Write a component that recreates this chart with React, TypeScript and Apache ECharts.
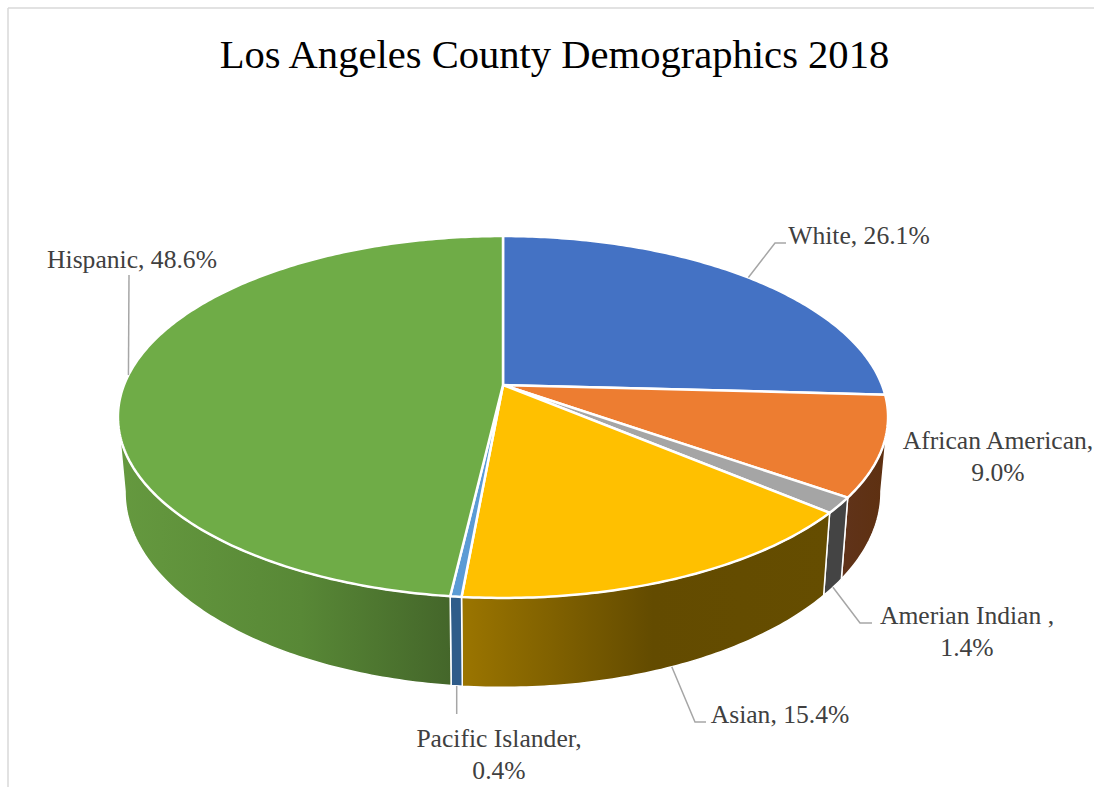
import React, { useEffect, useRef } from "react";
import * as echarts from "echarts";

const titleText = "Los Angeles County Demographics 2018";
const categories = ["White", "African American", "Amerian Indian ", "Asian", "Pacific Islander", "Hispanic"];
const shares = [26.1, 9.0, 1.4, 15.4, 0.4, 48.6];

const topColors = ["#4472C4", "#ED7D31", "#A5A5A5", "#FFC000", "#5B9BD5", "#6FAC47"];
const wallStops: [number, string][][] = [
  [[0, "#2F5597"], [1, "#2F5597"]],
  [[0, "#60331A"], [1, "#5E3010"]],
  [[0, "#444444"], [1, "#444444"]],
  [[0, "#9B7500"], [0.52, "#634B00"], [1, "#654D00"]],
  [[0, "#2F5C8A"], [1, "#2F5C8A"]],
  [[0, "#65993F"], [0.55, "#588836"], [1, "#44662A"]],
];

// Label centre, wrapping, and the leader's elbow and end, per slice.
const labelLayout = [
  { x: 859, y: 235, wrap: false, leader: [[775, 243], [786, 243]], from: "top" },
  { x: 998, y: 456, wrap: true, leader: null, from: "top" },
  { x: 967, y: 631, wrap: true, leader: [[860, 623], [872, 623]], from: "bottom" },
  { x: 780, y: 714, wrap: false, leader: [[695, 722], [706, 722]], from: "bottom" },
  { x: 499, y: 754, wrap: true, leader: "down", from: "bottom" },
  { x: 132, y: 259, wrap: false, leader: [[129, 275]], from: "top" },
];

// Perspective of the tilted disc: v runs toward the viewer.
const CX = 503;
const TILT = 0.1768;
const TOP_FACE = { cy: 385, a: 379, b: 175.3 };
const BOTTOM_FACE = { cy: 457.5, a: 372, b: 189.2 };
const WALL_FROM = 100;
const WALL_TO = 260;
const FONT = '"Liberation Serif", serif';

const project = (face: typeof TOP_FACE, deg: number): number[] => {
  const r = (deg * Math.PI) / 180;
  const u = Math.sin(r);
  const v = -Math.cos(r);
  const d = 1 - TILT * v;
  return [CX + (face.a * u) / d, face.cy + (face.b * v) / d];
};

const arc = (face: typeof TOP_FACE, from: number, to: number): number[][] => {
  const n = Math.max(2, Math.ceil((to - from) / 0.75));
  const pts: number[][] = [];
  for (let i = 0; i <= n; i++) pts.push(project(face, from + ((to - from) * i) / n));
  return pts;
};

const total = shares.reduce((a, b) => a + b, 0);
const startAngles = shares.map((_, i) => (shares.slice(0, i).reduce((a, b) => a + b, 0) / total) * 360);

const labelText = (i: number) => {
  const pct = `${shares[i].toFixed(1)}%`;
  return labelLayout[i].wrap ? `${categories[i]},\n${pct}` : `${categories[i]}, ${pct}`;
};

const renderSlice = (params: any, api: any) => {
  const i = params.dataIndex;
  const from = startAngles[i];
  const to = from + (api.value(0) / total) * 360;
  const children: any[] = [];

  const wFrom = Math.max(from, WALL_FROM);
  const wTo = Math.min(to, WALL_TO);
  if (wTo > wFrom) {
    const points = [...arc(TOP_FACE, wFrom, wTo), ...arc(BOTTOM_FACE, wFrom, wTo).reverse()];
    children.push({
      type: "polygon",
      z2: 1,
      shape: { points },
      style: {
        fill: new echarts.graphic.LinearGradient(
          0, 0, 1, 0,
          wallStops[i].map(([offset, color]) => ({ offset, color }))
        ),
        stroke: "#FFFFFF",
        lineWidth: 1.5,
        lineJoin: "round",
      },
    });
  }

  children.push({
    type: "polygon",
    z2: 2,
    shape: { points: [[CX, TOP_FACE.cy], ...arc(TOP_FACE, from, to)] },
    style: { fill: topColors[i], stroke: "#FFFFFF", lineWidth: 2.5, lineJoin: "round" },
  });

  const layout = labelLayout[i];
  if (layout.leader) {
    const anchor = project(layout.from === "top" ? TOP_FACE : BOTTOM_FACE, (from + to) / 2);
    const rest = layout.leader === "down" ? [[anchor[0], 714]] : (layout.leader as number[][]);
    children.push({
      type: "polyline",
      z2: 3,
      shape: { points: [anchor, ...rest] },
      style: { fill: "none", stroke: "#A6A6A6", lineWidth: 1.5 },
    });
  }

  children.push({
    type: "text",
    z2: 4,
    x: layout.x,
    y: layout.y,
    style: {
      text: labelText(i),
      font: `25.6px ${FONT}`,
      fill: "#404040",
      align: "center",
      verticalAlign: "middle",
      lineHeight: 32,
    },
  });

  return { type: "group", children };
};

export default function App() {
  const ref = useRef<HTMLDivElement>(null);

  useEffect(() => {
    const chart = echarts.init(ref.current!, null, { renderer: "svg" });
    chart.setOption({
      animation: false,
      backgroundColor: "#FFFFFF",
      title: {
        text: titleText,
        left: 549.5,
        top: 29,
        textAlign: "center",
        textStyle: { fontFamily: FONT, fontSize: 40.6, fontWeight: "normal", color: "#000000" },
      },
      graphic: [
        { type: "line", shape: { x1: 8, y1: 8, x2: 1094, y2: 8 }, style: { stroke: "#D9D9D9", lineWidth: 1.5 } },
        { type: "line", shape: { x1: 8, y1: 8, x2: 8, y2: 787 }, style: { stroke: "#D9D9D9", lineWidth: 1.5 } },
      ],
      series: [
        {
          type: "custom",
          coordinateSystem: "none",
          silent: true,
          clip: false,
          renderItem: renderSlice,
          data: shares.map((v) => [v]),
        },
      ],
    });
    return () => chart.dispose();
  }, []);

  return <div ref={ref} style={{ position: "fixed", left: 0, top: 0, width: 1094, height: 787 }} />;
}
